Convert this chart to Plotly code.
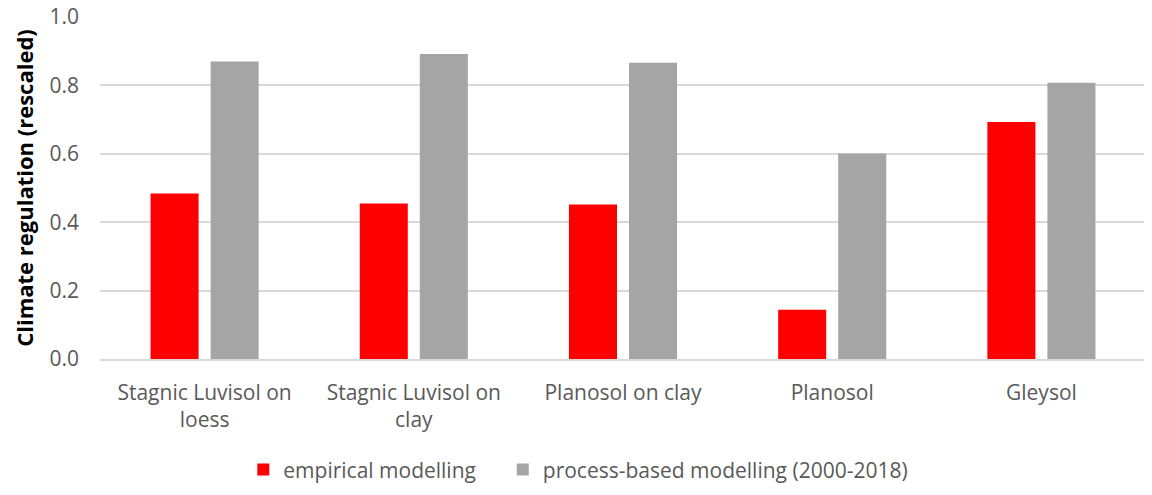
import plotly.graph_objects as go

categories = ["Stagnic Luvisol on<br>loess", "Stagnic Luvisol on<br>clay",
              "Planosol on clay", "Planosol", "Gleysol"]
empirical = [0.484, 0.455, 0.452, 0.144, 0.693]
process_based = [0.870, 0.892, 0.866, 0.601, 0.808]
series_names = ["empirical modelling", "process-based modelling (2000-2018)"]
y_ticks = [0.0, 0.2, 0.4, 0.6, 0.8, 1.0]
y_tick_labels = ["0.0", "0.2", "0.4", "0.6", "0.8", "1.0"]

FONT = "Open Sans, Noto Sans, sans-serif"
TXT = "#595959"
PAD = "\u00a0" * 4  # visual spacing between legend entries

fig = go.Figure()
fig.add_trace(go.Bar(x=categories, y=empirical, name=series_names[0] + PAD,
                     marker=dict(color="#FF0000", line=dict(width=0))))
fig.add_trace(go.Bar(x=categories, y=process_based, name=series_names[1],
                     marker=dict(color="#A5A5A5", line=dict(width=0))))

fig.update_layout(
    width=1144, height=487,
    margin=dict(l=92, r=6, t=9, b=135),
    paper_bgcolor="white", plot_bgcolor="white",
    barmode="group", bargap=0.426, bargroupgap=0.2,
    font=dict(family=FONT, size=21, color=TXT),
    legend=dict(orientation="h", x=0.137, xanchor="left", y=-0.32, yanchor="middle",
                font=dict(size=21, color=TXT), itemwidth=30, traceorder="normal"),
    showlegend=True,
)
fig.update_yaxes(range=[0, 1], tickvals=y_ticks, ticktext=y_tick_labels,
                 showgrid=True, gridcolor="#D9D9D9", gridwidth=1.5,
                 zeroline=False, showline=False, ticks="",
                 ticklabelstandoff=20, ticklabeloverflow="allow",
                 tickfont=dict(size=21, color=TXT),
                 title=dict(text="<b>Climate regulation (rescaled)</b>",
                            font=dict(size=22, color="#000000"), standoff=9),
                 automargin=False)
fig.update_xaxes(showline=True, linecolor="#D9D9D9", linewidth=1.5, ticks="",
                 ticklabelstandoff=14, automargin=False,
                 tickfont=dict(size=21, color=TXT))

fig.write_html("out.html")
